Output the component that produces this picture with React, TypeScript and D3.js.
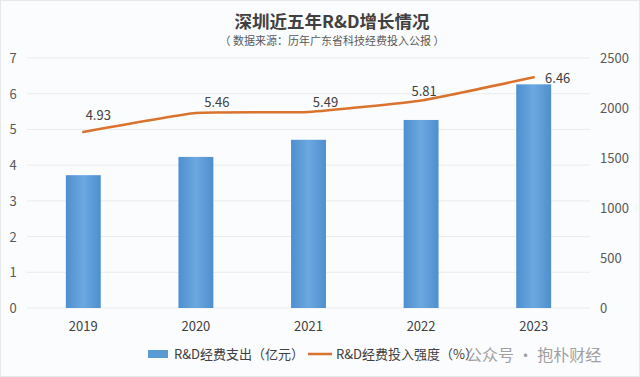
import React from "react";
import * as d3 from "d3";

const years = ["2019", "2020", "2021", "2022", "2023"];
const spending = [1328.28, 1510.81, 1682.15, 1880.49, 2236.61];
const intensity = [4.93, 5.46, 5.49, 5.81, 6.46];
const leftTicks = [0, 1, 2, 3, 4, 5, 6, 7];
const rightTicks = [0, 500, 1000, 1500, 2000, 2500];

const labelDx = [15, 21, 17, 3, 24];
const labelDy = [-12, -6, -5, -5, 6];

const W = 640, H = 377;
const plotLeft = 27, plotRight = 590, plotTop = 58, plotBottom = 308;

export default function App() {
  const x = d3.scaleBand<string>().domain(years).range([plotLeft, plotRight]).paddingInner(0.69).paddingOuter(0.345);
  const yL = d3.scaleLinear().domain([0, 7]).range([plotBottom, plotTop]);
  const yR = d3.scaleLinear().domain([0, 2500]).range([plotBottom, plotTop]);
  const cx = (d: string) => (x(d) ?? 0) + x.bandwidth() / 2;
  const line = d3.line<number>().x((_, i) => cx(years[i])).y((v) => yL(v)).curve(d3.curveCardinal.tension(0.6));
  const font = "'Microsoft YaHei','Noto Sans CJK SC','Noto Sans',sans-serif";
  return (
    <svg width={W} height={H} style={{ position: "absolute", left: 0, top: 0, fontFamily: font }}>
      <defs>
        <linearGradient id="barG" x1="0" x2="1" y1="0" y2="0">
          <stop offset="0" stopColor="#4e8fcf" />
          <stop offset="0.5" stopColor="#6ca8e0" />
          <stop offset="1" stopColor="#4e8fcf" />
        </linearGradient>
      </defs>
      <rect x={0} y={0} width={W} height={H} fill="#fbfcfd" />
      <rect x={0.5} y={0.5} width={W - 1} height={H - 1} fill="none" stroke="#e6e8ea" />
      <text x={332} y={28} textAnchor="middle" fontSize={17.5} fontWeight="bold" fill="#404040">深圳近五年R&amp;D增长情况</text>
      <text x={332} y={45} textAnchor="middle" fontSize={11} fill="#595959">（ 数据来源：历年广东省科技经费投入公报 ）</text>
      {leftTicks.map((t) => (
        <g key={t}>
          <line x1={plotLeft} x2={plotRight} y1={yL(t)} y2={yL(t)} stroke="#e9ebed" strokeWidth={1} />
          <text x={13} y={yL(t) + 5} textAnchor="middle" fontSize={13} fill="#595959">{t}</text>
        </g>
      ))}
      {rightTicks.map((t) => (
        <text key={t} x={600} y={yR(t) + 5} textAnchor="start" fontSize={13} fill="#595959">{t}</text>
      ))}
      {years.map((yr, i) => (
        <rect key={yr} x={x(yr)} y={yR(spending[i])} width={x.bandwidth()} height={plotBottom - yR(spending[i])} fill="url(#barG)" />
      ))}
      <path d={line(intensity) ?? ""} fill="none" stroke="#d9732e" strokeWidth={2.5} strokeLinecap="round" />
      {years.map((yr, i) => (
        <text key={yr} x={cx(yr) + labelDx[i]} y={yL(intensity[i]) + labelDy[i]} textAnchor="middle" fontSize={13} fill="#404040">{intensity[i].toFixed(2)}</text>
      ))}
      {years.map((yr) => (
        <text key={yr} x={cx(yr)} y={331} textAnchor="middle" fontSize={13} fill="#404040">{yr}</text>
      ))}
      <rect x={148} y={350} width={20} height={8} fill="#5b9bd5" />
      <text x={174} y={359} fontSize={13} fill="#404040">R&amp;D经费支出（亿元）</text>
      <line x1={308} x2={332} y1={354} y2={354} stroke="#d9732e" strokeWidth={2.5} />
      <text x={336} y={359} fontSize={13} fill="#404040">R&amp;D经费投入强度（%）</text>
      <text x={466} y={361} fontSize={16} fill="#8a8a8a" opacity={0.8}>公众号 · 抱朴财经</text>
    </svg>
  );
}
